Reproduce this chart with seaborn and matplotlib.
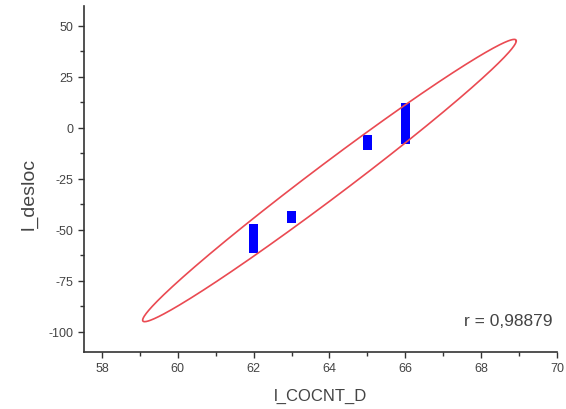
import matplotlib
matplotlib.use("Agg")
import matplotlib.pyplot as plt
import numpy as np
import pandas as pd
import seaborn as sns

# data
cocnt_x = [62] * 9 + [63] * 2 + [65] * 2 + [66] * 9
desloc_y = [-49.5, -50.5, -51.5, -52.5, -53.0, -53.5, -54.0, -56.0, -59.0,
            -43.0, -44.3,
            -5.7, -8.6,
            9.8, 6.0, 3.5, 2.0, 1.0, 0.0, -1.5, -3.0, -5.5]
r_label = "r = 0,98879"
x_ticks = [58, 60, 62, 64, 66, 68, 70]
y_ticks = [-100, -75, -50, -25, 0, 25, 50]

CONF_SCALE = 2.59  # ellipse radius in standard deviations

df = pd.DataFrame({"l_COCNT_D": cocnt_x, "l_desloc": desloc_y})

sns.set_style("ticks")
plt.rcParams["font.family"] = ["Liberation Sans", "DejaVu Sans"]
plt.rcParams["axes.unicode_minus"] = False

fig = plt.figure(figsize=(5.66, 4.10), dpi=100)
ax = fig.add_axes([0.148, 0.139, 0.836, 0.845])

# confidence ellipse from the sample covariance
xy = df[["l_COCNT_D", "l_desloc"]].to_numpy(dtype=float)
center = xy.mean(axis=0)
cov = np.cov(xy, rowvar=False)
chol = np.linalg.cholesky(cov)
t = np.linspace(0, 2 * np.pi, 400)
circle = np.vstack([np.cos(t), np.sin(t)])
ell = center[:, None] + CONF_SCALE * chol @ circle
ax.plot(ell[0], ell[1], color="#ea4a52", lw=1.2)

sns.scatterplot(data=df, x="l_COCNT_D", y="l_desloc", ax=ax, marker="s",
                color="#0000ff", s=44, edgecolor="none", linewidth=0)

ax.set_xlim(57.52, 70)
ax.set_ylim(-110, 60)
ax.set_xticks(x_ticks)
ax.set_yticks(y_ticks)
ax.set_xticks(np.arange(59, 70, 2), minor=True)
ax.set_yticks(np.arange(-87.5, 60, 25), minor=True)
ax.tick_params(axis="both", which="major", length=4, width=1, labelsize=9,
               colors="#333333", labelcolor="#444444")
ax.tick_params(axis="both", which="minor", length=3, width=1, colors="#333333")
for side in ("left", "bottom"):
    ax.spines[side].set_color("#333333")
    ax.spines[side].set_linewidth(1.2)
sns.despine(ax=ax)

ax.set_xlabel("l_COCNT_D", fontsize=12, color="#444444", labelpad=10)
ax.set_ylabel("l_desloc", fontsize=14, color="#444444")
ax.yaxis.set_label_coords(-0.098, 0.46)
ax.text(0.99, 0.092, r_label, transform=ax.transAxes, ha="right", va="center",
        fontsize=12.5, color="#444444")

fig.savefig("out.png", dpi=100)
